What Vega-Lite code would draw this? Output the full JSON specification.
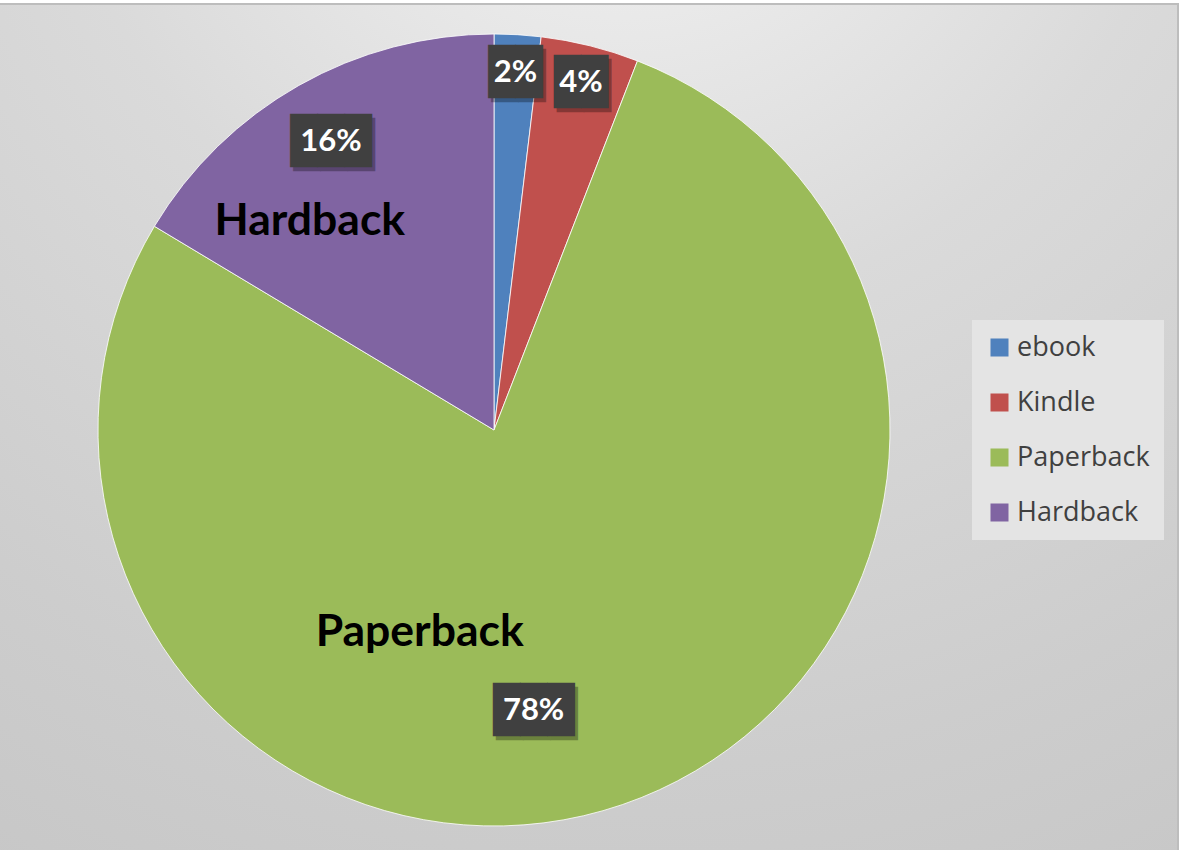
{
  "$schema": "https://vega.github.io/schema/vega-lite/v6.json",
  "width": 1368,
  "height": 852,
  "autosize": {"type": "none"},
  "padding": {"left": -190, "top": 4, "right": 4, "bottom": 0},
  "background": "#ffffff",
  "config": {
    "view": {"stroke": null},
    "legend": {
      "title": null,
      "orient": "none",
      "legendX": 1162,
      "legendY": 316,
      "symbolType": "square",
      "symbolSize": 324,
      "symbolStrokeWidth": 0,
      "labelFont": "Open Sans",
      "labelFontSize": 27,
      "labelColor": "#404040",
      "fillColor": "#e4e4e4",
      "padding": 14,
      "rowPadding": 27,
      "labelOffset": 4,
      "labelLimit": 300
    }
  },
  "data": {
    "values": [
      {"format": "ebook", "share": 0.019, "rank": 1},
      {"format": "Kindle", "share": 0.040, "rank": 2},
      {"format": "Paperback", "share": 0.777, "rank": 3},
      {"format": "Hardback", "share": 0.164, "rank": 4}
    ]
  },
  "layer": [
    {
      "data": {"values": [{}]},
      "mark": {
        "type": "rect",
        "stroke": "#bdbdbd",
        "strokeWidth": 2,
        "color": {
          "gradient": "radial",
          "x1": 0.592, "y1": 0, "r1": 0,
          "x2": 0.592, "y2": 0, "r2": 1.1,
          "stops": [
            {"offset": 0, "color": "#fbfbfb"},
            {"offset": 0.14, "color": "#ececec"},
            {"offset": 0.38, "color": "#dadada"},
            {"offset": 0.68, "color": "#cdcdcd"},
            {"offset": 1, "color": "#c2c2c2"}
          ]
        }
      }
    },
    {
      "encoding": {
        "theta": {"field": "share", "type": "quantitative", "stack": true},
        "order": {"field": "rank", "type": "quantitative"}
      },
      "layer": [
        {
          "mark": {"type": "arc", "radius": 396, "stroke": "#ffffff", "strokeWidth": 1, "strokeOpacity": 0.8},
          "encoding": {
            "color": {
              "field": "format",
              "type": "nominal",
              "scale": {
                "domain": ["ebook", "Kindle", "Paperback", "Hardback"],
                "range": ["#4f81bd", "#c0504d", "#9bbb59", "#8064a2"]
              }
            }
          }
        },
        {
          "mark": {"type": "text", "radius": 358, "font": "DejaVu Sans Mono", "fontSize": 45, "color": "#000000", "opacity": 0.3, "dx": 3, "dy": 4},
          "encoding": {"text": {"condition": {"test": "datum.format === 'ebook' || datum.format === 'Kindle'", "value": "██"}, "value": ""}}
        },
        {
          "mark": {"type": "text", "radius": 358, "font": "DejaVu Sans Mono", "fontSize": 45, "color": "#404040"},
          "encoding": {"text": {"condition": {"test": "datum.format === 'ebook' || datum.format === 'Kindle'", "value": "██"}, "value": ""}}
        },
        {
          "mark": {"type": "text", "radius": 358, "font": "Lato", "fontWeight": "bold", "fontSize": 31, "color": "#ffffff"},
          "encoding": {"text": {"condition": {"test": "!(datum.format === 'ebook' || datum.format === 'Kindle')", "value": ""}, "field": "share", "type": "quantitative", "format": ".0%"}}
        },
        {
          "mark": {"type": "text", "radius": 331, "font": "DejaVu Sans Mono", "fontSize": 45, "color": "#000000", "opacity": 0.3, "dx": 3, "dy": 4},
          "encoding": {"text": {"condition": {"test": "datum.format === 'Hardback'", "value": "███"}, "value": ""}}
        },
        {
          "mark": {"type": "text", "radius": 331, "font": "DejaVu Sans Mono", "fontSize": 45, "color": "#404040"},
          "encoding": {"text": {"condition": {"test": "datum.format === 'Hardback'", "value": "███"}, "value": ""}}
        },
        {
          "mark": {"type": "text", "radius": 331, "font": "Lato", "fontWeight": "bold", "fontSize": 31, "color": "#ffffff"},
          "encoding": {"text": {"condition": {"test": "datum.format !== 'Hardback'", "value": ""}, "field": "share", "type": "quantitative", "format": ".0%"}}
        },
        {
          "mark": {"type": "text", "radius": 284, "thetaOffset": 0.19, "font": "DejaVu Sans Mono", "fontSize": 45, "color": "#000000", "opacity": 0.3, "dx": 3, "dy": 4},
          "encoding": {"text": {"condition": {"test": "datum.format === 'Paperback'", "value": "███"}, "value": ""}}
        },
        {
          "mark": {"type": "text", "radius": 284, "thetaOffset": 0.19, "font": "DejaVu Sans Mono", "fontSize": 45, "color": "#404040"},
          "encoding": {"text": {"condition": {"test": "datum.format === 'Paperback'", "value": "███"}, "value": ""}}
        },
        {
          "mark": {"type": "text", "radius": 284, "thetaOffset": 0.19, "font": "Lato", "fontWeight": "bold", "fontSize": 31, "color": "#ffffff"},
          "encoding": {"text": {"condition": {"test": "datum.format !== 'Paperback'", "value": ""}, "field": "share", "type": "quantitative", "format": ".0%"}}
        },
        {
          "mark": {"type": "text", "radius": 278, "thetaOffset": -0.209, "font": "Lato", "fontWeight": "bold", "fontSize": 44.5, "color": "#000000"},
          "encoding": {"text": {"condition": {"test": "datum.format !== 'Hardback'", "value": ""}, "field": "format", "type": "nominal"}}
        },
        {
          "mark": {"type": "text", "radius": 216, "thetaOffset": 0.681, "font": "Lato", "fontWeight": "bold", "fontSize": 44.5, "color": "#000000"},
          "encoding": {"text": {"condition": {"test": "datum.format !== 'Paperback'", "value": ""}, "field": "format", "type": "nominal"}}
        }
      ]
    }
  ]
}
